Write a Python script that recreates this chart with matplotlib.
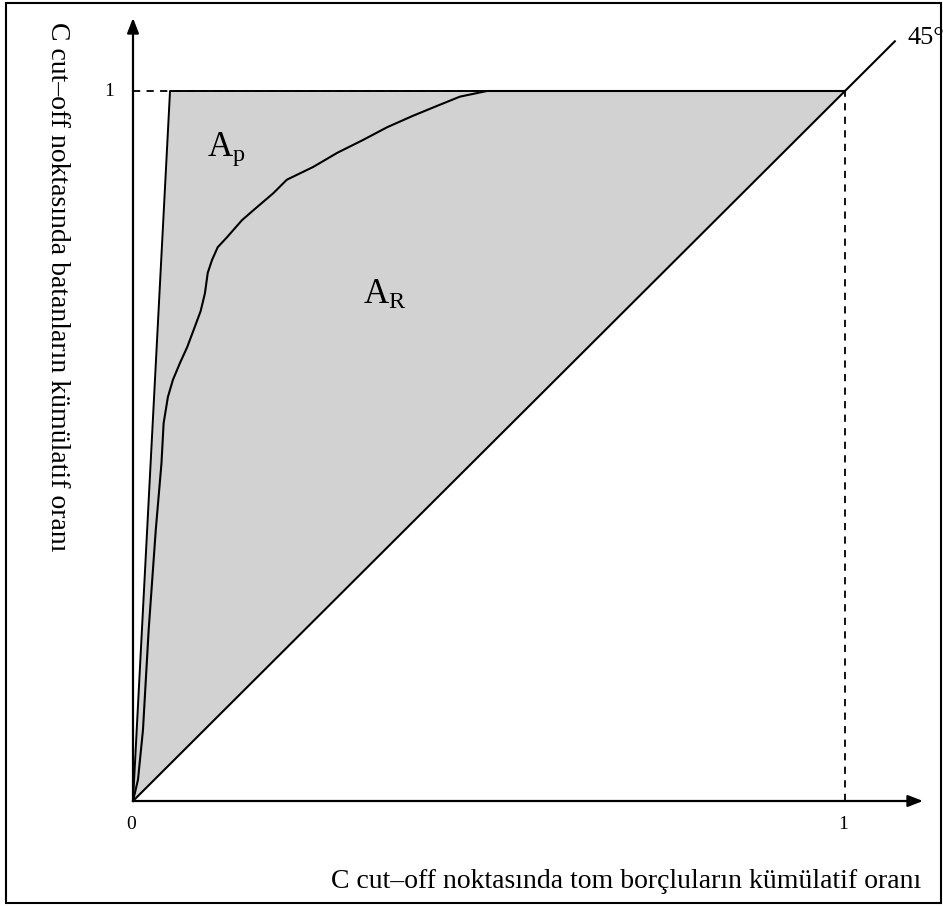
import matplotlib
matplotlib.use('Agg')
import matplotlib.pyplot as plt
from matplotlib.patches import Rectangle, Polygon

plt.rcParams['font.family'] = ['Liberation Serif', 'DejaVu Serif']
plt.rcParams['mathtext.fontset'] = 'custom'
plt.rcParams['mathtext.rm'] = 'Liberation Serif'
plt.rcParams['mathtext.it'] = 'Liberation Serif'

# data
perfect_x = [0.0, 0.052, 1.0]
perfect_y = [0.0, 1.0, 1.0]
rating_x = [0.0, 0.007, 0.014, 0.022, 0.032, 0.040, 0.043, 0.049, 0.056, 0.066,
            0.076, 0.085, 0.095, 0.101, 0.105, 0.111, 0.119, 0.132, 0.153, 0.169,
            0.197, 0.216, 0.253, 0.287, 0.323, 0.357, 0.393, 0.427, 0.459, 0.497,
            1.0]
rating_y = [0.0, 0.030, 0.100, 0.241, 0.382, 0.476, 0.532, 0.569, 0.593, 0.617,
            0.639, 0.663, 0.690, 0.715, 0.744, 0.762, 0.780, 0.794, 0.818, 0.832,
            0.856, 0.875, 0.893, 0.913, 0.931, 0.949, 0.965, 0.979, 0.992, 1.0,
            1.0]
diag = [0.0, 1.070]
tick_vals = [0, 1]
xlabel = 'C cut\u2013off noktasında tom borçluların kümülatif oranı'
ylabel = 'C cut\u2013off noktasında batanların kümülatif oranı'

W, H = 943, 906
fig = plt.figure(figsize=(W / 100, H / 100), dpi=100)
ax = fig.add_axes([0, 0, 1, 1])
ax.set_xlim(-133 / 712, (W - 133) / 712)
ax.set_ylim(-(H - 801) / 710, 801 / 710)
ax.axis('off')

# frame around the whole picture
fig.patches.append(Rectangle((6 / W, 3 / H), (W - 8) / W, (H - 6) / H,
                             transform=fig.transFigure, fill=False,
                             edgecolor='black', linewidth=1.5))

# shaded area between perfect model and random model
ax.add_patch(Polygon(list(zip(perfect_x, perfect_y)), closed=True,
                     facecolor='#d2d2d2', edgecolor='none', zorder=1))

# dashed guides at 1
ax.plot([0, 1], [1, 1], ls=(0, (4, 3.5)), color='black', lw=1.3, zorder=2)
ax.plot([1, 1], [0, 1], ls=(0, (4, 3.5)), color='black', lw=1.3, zorder=2)

ax.plot(perfect_x, perfect_y, color='black', lw=1.4, zorder=3)
ax.plot(rating_x, rating_y, color='black', lw=1.5, zorder=3,
        solid_joinstyle='round')
ax.plot(diag, diag, color='black', lw=1.5, zorder=3)

# axes with arrows
ax.annotate('', xy=(0, (801 - 18) / 710), xytext=(0, 0),
            arrowprops=dict(arrowstyle='-|>,head_length=0.9,head_width=0.35',
                            color='black', lw=1.6, shrinkA=0, shrinkB=0))
ax.annotate('', xy=((923 - 133) / 712, 0), xytext=(0, 0),
            arrowprops=dict(arrowstyle='-|>,head_length=0.9,head_width=0.35',
                            color='black', lw=1.6, shrinkA=0, shrinkB=0))

# tick labels
for v in tick_vals:
    ax.text(v - 0.003, -0.033, str(v), ha='center', va='center', fontsize=14)
ax.text(-0.034, 1.0, '1', ha='center', va='center', fontsize=14)

ax.text(1.088, 1.075, '45°', ha='left', va='center', fontsize=19, clip_on=False)

ax.text(0.104, 0.908, r'$\mathrm{A_p}$', ha='left', va='baseline', fontsize=25)
ax.text(0.323, 0.700, r'$\mathrm{A_R}$', ha='left', va='baseline', fontsize=25)

fig.text(921 / W, 1 - 888 / H, xlabel, ha='right', va='baseline', fontsize=20)
fig.text(57 / W, 1 - 287 / H, ylabel, ha='center', va='center',
         rotation=-90, fontsize=20)

fig.savefig('out.png', dpi=100)
